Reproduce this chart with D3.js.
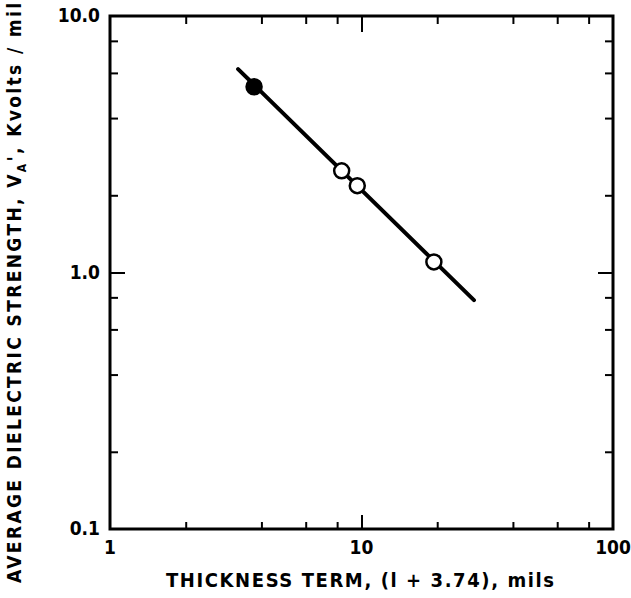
<!DOCTYPE html>
<html>
<head>
<meta charset="utf-8">
<script src="https://cdn.jsdelivr.net/npm/d3@7"></script>
<style>
  body { margin: 0; background: #fff; }
  svg text { font-family: "DejaVu Sans Condensed", "Liberation Sans Narrow", sans-serif; font-weight: bold; fill: #000; }
</style>
</head>
<body>
<svg width="631" height="598"></svg>
<script>
// measured points (l + 3.74 mils, Kvolts/mil)
var thickness = [3.74, 8.34, 9.62, 19.4];
var strength = [5.3, 2.49, 2.18, 1.10];
var filled = [true, false, false, false];

// fitted line end points
var fitX = [3.23, 28.0];
var fitY = [6.21, 0.78];

var xMinor = [2, 4, 6, 8, 20, 40, 60, 80];
var xMajor = [10];
var yMinor = [0.2, 0.4, 0.6, 0.8, 2, 4, 6, 8];
var yMajor = [1];
var xLabels = [1, 10, 100];
var xLabelText = ["1", "10", "100"];
var yLabels = [0.1, 1, 10];
var yLabelText = ["0.1", "1.0", "10.0"];

var svg = d3.select("svg");
var mLeft = 110, mRight = 613, mTop = 16, mBottom = 529;

var x = d3.scaleLog().domain([1, 100]).range([mLeft, mRight]);
var y = d3.scaleLog().domain([0.1, 10]).range([mBottom, mTop]);

// frame
svg.append("rect")
    .attr("x", mLeft).attr("y", mTop)
    .attr("width", mRight - mLeft).attr("height", mBottom - mTop)
    .attr("fill", "none").attr("stroke", "#000").attr("stroke-width", 3);

var tickAxis = function(g, axis){
    g.call(axis);
    g.select(".domain").remove();
    g.selectAll("line").attr("stroke", "#000").attr("stroke-width", 2);
};

svg.append("g").attr("transform", "translate(0," + mBottom + ")")
    .call(tickAxis, d3.axisBottom(x).tickValues(xMinor).tickSize(-7).tickFormat(""));
svg.append("g").attr("transform", "translate(0," + mBottom + ")")
    .call(tickAxis, d3.axisBottom(x).tickValues(xMajor).tickSize(-14).tickFormat(""));
svg.append("g").attr("transform", "translate(0," + mTop + ")")
    .call(tickAxis, d3.axisTop(x).tickValues(xMinor).tickSize(-8).tickFormat(""));
svg.append("g").attr("transform", "translate(0," + mTop + ")")
    .call(tickAxis, d3.axisTop(x).tickValues(xMajor).tickSize(-16).tickFormat(""));
svg.append("g").attr("transform", "translate(" + mLeft + ",0)")
    .call(tickAxis, d3.axisLeft(y).tickValues(yMinor).tickSize(-8).tickFormat(""));
svg.append("g").attr("transform", "translate(" + mLeft + ",0)")
    .call(tickAxis, d3.axisLeft(y).tickValues(yMajor).tickSize(-15).tickFormat(""));
svg.append("g").attr("transform", "translate(" + mRight + ",0)")
    .call(tickAxis, d3.axisRight(y).tickValues(yMinor).tickSize(-8).tickFormat(""));
svg.append("g").attr("transform", "translate(" + mRight + ",0)")
    .call(tickAxis, d3.axisRight(y).tickValues(yMajor).tickSize(-15).tickFormat(""));

// tick labels
svg.selectAll(".xl").data(xLabels).enter().append("text")
    .attr("x", function(d){ return x(d); })
    .attr("y", 554)
    .attr("text-anchor", "middle")
    .attr("font-size", 19)
    .text(function(d,i){ return xLabelText[i]; });

svg.selectAll(".yl").data(yLabels).enter().append("text")
    .attr("x", 100)
    .attr("y", function(d){ return y(d) + 6; })
    .attr("text-anchor", "end")
    .attr("font-size", 19)
    .text(function(d,i){ return yLabelText[i]; });

// axis titles
svg.append("text")
    .attr("x", 360).attr("y", 587)
    .attr("text-anchor", "middle")
    .attr("font-size", 20)
    .attr("textLength", 388)
    .text("THICKNESS TERM,  (l + 3.74),  mils");

var yt = svg.append("text")
    .attr("transform", "translate(21,583) rotate(-90)")
    .attr("font-size", 19)
    .attr("textLength", 580);
yt.append("tspan").text("AVERAGE DIELECTRIC STRENGTH,  V");
yt.append("tspan").attr("font-size", 12).attr("dy", 5).text("A");
yt.append("tspan").attr("dy", -5).text("',  Kvolts / mil");

// fitted line
var line = d3.line()
    .x(function(d){ return x(d[0]); })
    .y(function(d){ return y(d[1]); });
svg.append("path")
    .datum(d3.zip(fitX, fitY))
    .attr("d", line)
    .attr("fill", "none")
    .attr("stroke", "#000")
    .attr("stroke-width", 4)
    .attr("stroke-linecap", "round");

// points
svg.selectAll("circle").data(thickness).enter().append("circle")
    .attr("cx", function(d){ return x(d); })
    .attr("cy", function(d,i){ return y(strength[i]); })
    .attr("r", 7.5)
    .attr("fill", function(d,i){ return filled[i] ? "#000" : "#fff"; })
    .attr("stroke", "#000")
    .attr("stroke-width", 2.5);
</script>
</body>
</html>
